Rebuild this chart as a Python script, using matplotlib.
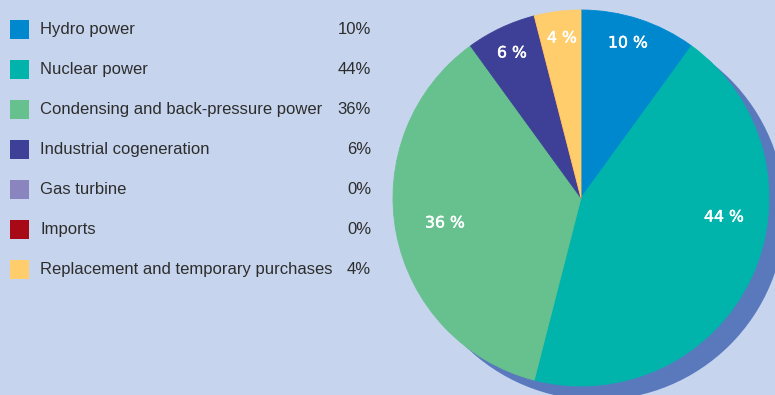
import matplotlib
matplotlib.use("Agg")
import matplotlib.pyplot as plt
import matplotlib.patheffects as pe
from matplotlib.patches import Circle, Rectangle

# Electricity supply by source
categories = [
    "Hydro power",
    "Nuclear power",
    "Condensing and back-pressure power",
    "Industrial cogeneration",
    "Gas turbine",
    "Imports",
    "Replacement and temporary purchases",
]
shares = [10, 44, 36, 6, 0, 0, 4]
colors = ["#0088cf", "#00b4ac", "#66c18e", "#3e3f97", "#8a84bf", "#a70a16", "#ffcd6b"]

# Layout (pixel units, y measured upward)
W, H = 775, 395
BG = "#c6d4ed"
SHADOW = "#5a79bd"
TEXT = "#2d2d2d"
CENTER = (581, H - 198)
RADIUS = 188
SHADOW_OFFSET = (16, -14)
# in-slice label positions relative to the pie centre (pixels)
label_offsets = {0: (47, 155), 1: (143, -19), 2: (-136, -25), 3: (-69, 145), 6: (-19, 160)}

fig = plt.figure(figsize=(W / 100, H / 100), dpi=100, facecolor=BG)
ax = fig.add_axes([0, 0, 1, 1])
ax.set_facecolor(BG)

# drop shadow behind the pie
ax.add_patch(Circle((CENTER[0] + SHADOW_OFFSET[0], CENTER[1] + SHADOW_OFFSET[1]),
                    RADIUS, facecolor=SHADOW, edgecolor="none", zorder=1))

wedges, _ = ax.pie(shares, colors=colors, startangle=90, counterclock=False,
                   center=CENTER, radius=RADIUS, frame=True,
                   wedgeprops=dict(linewidth=0.6))
for w, c in zip(wedges, colors):
    w.set_edgecolor(c)
    w.set_zorder(2)
ax.set_xlim(0, W)
ax.set_ylim(0, H)
ax.set_aspect("equal")
ax.axis("off")

for i, (dx, dy) in label_offsets.items():
    ax.text(CENTER[0] + dx, CENTER[1] + dy, f"{shares[i]} %", color="white",
            fontsize=11.3, fontfamily="DejaVu Sans",
            ha="center", va="center", zorder=3,
            path_effects=[pe.withStroke(linewidth=0.35, foreground="white")])

# legend column
for i, (name, val, col) in enumerate(zip(categories, shares, colors)):
    top = 20 + 40 * i
    ax.add_patch(Rectangle((10, H - top - 19), 19, 19, facecolor=col,
                           edgecolor="none", zorder=3))
    base = H - (top + 14.3)
    ax.text(40, base, name, color=TEXT, fontsize=12, fontfamily="Liberation Sans",
            ha="left", va="baseline")
    ax.text(371, base, f"{val}%", color=TEXT, fontsize=12,
            fontfamily="Liberation Sans", ha="right", va="baseline")

fig.savefig("out.png", dpi=100, facecolor=BG)
